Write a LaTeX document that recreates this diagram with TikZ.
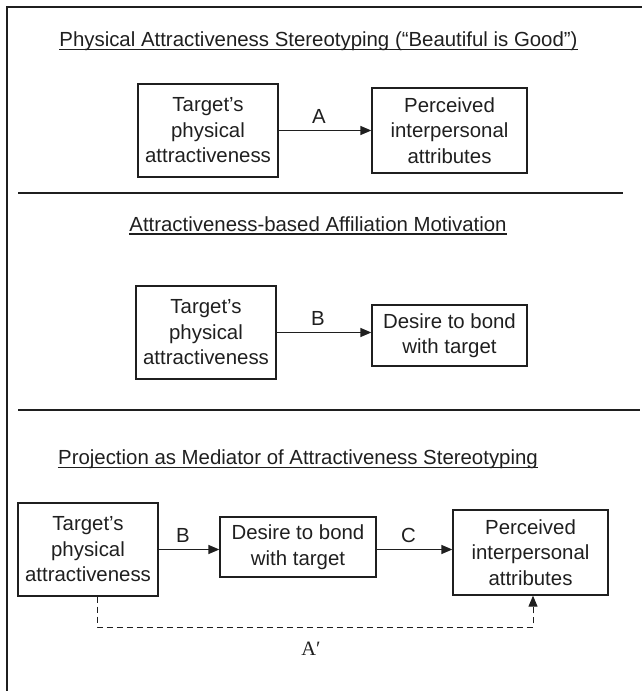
\documentclass[tikz,border=0pt]{standalone}
\usepackage{fontspec}
\setmainfont{Liberation Sans}
\newfontfamily\timesfont{Liberation Serif}
\usetikzlibrary{arrows.meta,calc}
\definecolor{ink}{gray}{0.12}
\tikzstyle{bx}=[draw=ink,line width=1.3pt,align=center,inner sep=0pt,text=ink]
\tikzstyle{ttl}=[anchor=base,inner sep=0pt,text=ink]
\tikzstyle{arr}=[-{Triangle[length=11pt,width=9pt]},line width=1.3pt,draw=ink]
\tikzstyle{lbl}=[midway,above=6.5pt,inner sep=0pt,xshift=-6pt,text=ink]
\tikzstyle{uline}=[ink,line width=1.1pt]

\begin{document}
\begin{tikzpicture}[x=1pt,y=-1pt,font=\fontsize{20.4}{25.5}\selectfont]
\useasboundingbox (0,0) rectangle (642,691);
\draw[ink,line width=2pt] (642,7) -- (7,7) -- (7,691);
\draw[ink,line width=1.3pt] (18,193) -- (623,193);
\draw[ink,line width=1.3pt] (18,410) -- (640,410);

\node[ttl] (t1) at (318.5,46.5) {Physical Attractiveness Stereotyping (“Beautiful is Good”)};
\draw[uline] ($(t1.base west)+(0,3)$) -- ($(t1.base east)+(0,3)$);
\node[bx,minimum width=140pt,minimum height=93pt] (pa1) at (208,130.5) {Target’s\\physical\\attractiveness};
\node[bx,minimum width=155pt,minimum height=85pt] (pi1) at (449.5,130.5) {Perceived\\interpersonal\\attributes};
\draw[arr] (pa1) -- node[lbl] {A} (pi1);

\node[ttl] (t2) at (318,231.5) {Attractiveness-based Affiliation Motivation};
\draw[uline] ($(t2.base west)+(0,2.5)$) -- ($(t2.base east)+(0,2.5)$);
\node[bx,minimum width=140pt,minimum height=93pt] (pa2) at (206,332.5) {Target’s\\physical\\attractiveness};
\node[bx,minimum width=155pt,minimum height=61pt] (db2) at (449.5,335.5) {Desire to bond\\with target};
\draw[arr] (pa2.east) -- node[lbl] {B} (pa2.east -| db2.west);

\node[ttl] (t3) at (298,464.3) {Projection as Mediator of Attractiveness Stereotyping};
\draw[uline] ($(t3.base west)+(0,3)$) -- ($(t3.base east)+(0,3)$);
\node[bx,minimum width=140pt,minimum height=93pt] (pa3) at (88,549.5) {Target’s\\physical\\attractiveness};
\node[bx,minimum width=156pt,minimum height=60pt] (db3) at (298,547) {Desire to bond\\with target};
\node[bx,minimum width=155pt,minimum height=85pt] (pi3) at (530.5,552.5) {Perceived\\interpersonal\\attributes};
\draw[arr] (pa3.east) -- node[lbl] {B} (pa3.east -| db3.west);
\draw[arr] (db3.east |- pa3.east) -- node[lbl] {C} (pa3.east -| pi3.west);

\coordinate (dl) at (97,627);
\coordinate (dr) at (533,627);
\draw[arr,line width=1pt,dash pattern=on 6pt off 4pt] (pa3.south -| dl) -- (dl) -- node[below=15pt,inner sep=0pt,xshift=-4pt,text=ink,font=\timesfont\fontsize{20.4}{24}\selectfont] (ap) {A′} (dr) -- (dr |- pi3.south);
\end{tikzpicture}
\end{document}
